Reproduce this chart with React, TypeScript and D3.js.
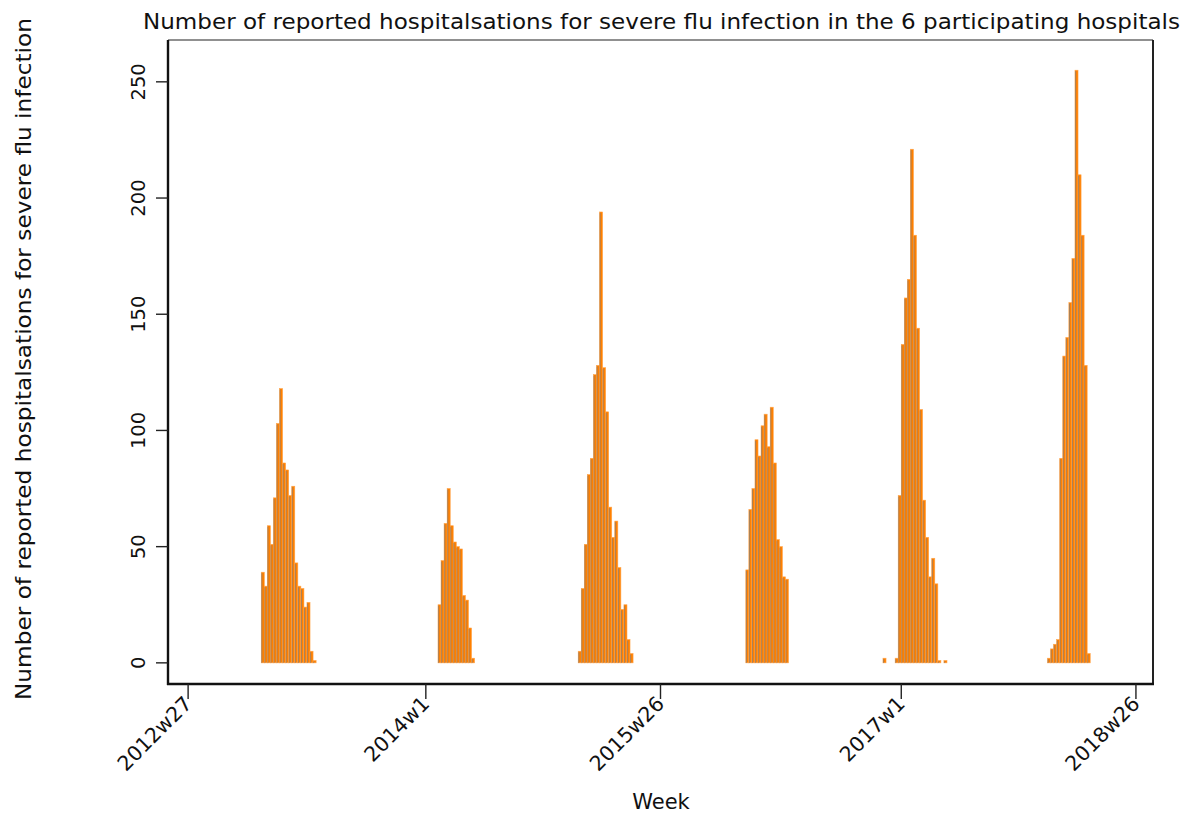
import React, { useEffect } from 'react';
import * as d3 from 'd3';

// weekly counts per flu season
const seasonStarts = ['2012w51', '2014w5', '2014w51', '2016w2', '2016w47', '2017w49'];
const season2012 = [39, 33, 59, 51, 71, 103, 118, 86, 83, 72, 76, 43, 33, 32, 24, 26, 5, 1];
const season2013 = [25, 44, 60, 75, 59, 52, 50, 49, 29, 27, 15, 2];
const season2014 = [5, 32, 51, 81, 88, 124, 128, 194, 127, 108, 67, 54, 61, 41, 23, 25, 10, 4];
const season2015 = [40, 66, 75, 96, 89, 102, 107, 93, 110, 86, 53, 50, 37, 36];
const season2016 = [2, 0, 0, 0, 2, 72, 137, 157, 165, 221, 184, 144, 109, 70, 54, 37, 45, 34, 1, 0, 1];
const season2017 = [2, 6, 8, 10, 88, 132, 140, 155, 174, 255, 210, 184, 128, 4];
const seasons = [season2012, season2013, season2014, season2015, season2016, season2017];

const xTickLabels = ['2012w27', '2014w1', '2015w26', '2017w1', '2018w26'];
const yTicks = [0, 50, 100, 150, 200, 250];

// Stata style weekly date: 52 weeks a year, counted from 1960w1
const weekNum = (s: string) => {
  const [y, w] = s.split('w').map(Number);
  return (y - 1960) * 52 + (w - 1);
};

const W = 1191;
const H = 814;
const left = 168;
const right = 1153;
const top = 40;
const bottom = 684;
const font = '"DejaVu Sans", sans-serif';

const App: React.FC = () => {
  useEffect(() => {
    document.body.style.margin = '0';
  }, []);

  const x = d3
    .scaleLinear()
    .domain([weekNum('2012w27') - 6.6, weekNum('2018w26') + 5.6])
    .range([left, right]);
  const y = d3.scaleLinear().domain([-9.1, 268]).range([bottom, top]);

  const bars = seasons.flatMap((vals, si) => {
    const start = weekNum(seasonStarts[si]);
    return vals.map((v, i) => ({ t: start + i, v })).filter((d) => d.v > 0);
  });

  return (
    <svg width={W} height={H} style={{ display: 'block', background: '#fff' }}>
      <text
        x={143}
        y={29}
        fontFamily={font}
        fontSize={21}
        textLength={1037}
        lengthAdjust="spacingAndGlyphs"
        fill="#111"
      >
        Number of reported hospitalsations for severe flu infection in the 6 participating hospitals
      </text>

      {/* bars */}
      {bars.map((d, i) => {
        const x0 = x(d.t);
        const x1 = x(d.t + 1);
        const y0 = y(d.v);
        return (
          <g key={i}>
            <rect
              x={x0}
              y={y0}
              width={x1 - x0}
              height={y(0) - y0}
              fill="#ff8000"
              stroke="#ffa44a"
              strokeWidth={0.6}
            />
            <line x1={x0 + 0.6} x2={x0 + 0.6} y1={y0 + 1} y2={y(0)} stroke="#94806c" strokeWidth={0.8} />
          </g>
        );
      })}

      {/* frame */}
      <line x1={left} x2={right} y1={top} y2={top} stroke="#222" strokeWidth={1.2} />
      <line x1={right} x2={right} y1={top} y2={bottom} stroke="#222" strokeWidth={2} />
      <line x1={left} x2={left} y1={top} y2={bottom + 1} stroke="#111" strokeWidth={2.4} />
      <line x1={left - 1} x2={right + 1} y1={bottom} y2={bottom} stroke="#111" strokeWidth={2.4} />

      {/* y axis */}
      {yTicks.map((t) => (
        <g key={t}>
          <line x1={left - 12} x2={left} y1={y(t)} y2={y(t)} stroke="#222" strokeWidth={1.4} />
          <text
            transform={`translate(${left - 23},${y(t)}) rotate(-90)`}
            textAnchor="middle"
            fontFamily={font}
            fontSize={19.5}
            fill="#111"
          >
            {t}
          </text>
        </g>
      ))}
      <text
        transform="translate(31,700) rotate(-90)"
        fontFamily={font}
        fontSize={22}
        textLength={682}
        lengthAdjust="spacingAndGlyphs"
        fill="#111"
      >
        Number of reported hospitalsations for severe flu infection
      </text>

      {/* x axis */}
      {xTickLabels.map((lab) => {
        const px = x(weekNum(lab));
        return (
          <g key={lab}>
            <line x1={px} x2={px} y1={bottom} y2={bottom + 15} stroke="#222" strokeWidth={1.4} />
            <text
              transform={`translate(${px + 5},${bottom + 21}) rotate(-45)`}
              textAnchor="end"
              fontFamily={font}
              fontSize={20.5}
              fill="#111"
            >
              {lab}
            </text>
          </g>
        );
      })}
      <text x={661} y={809} textAnchor="middle" fontFamily={font} fontSize={21} fill="#111">
        Week
      </text>
    </svg>
  );
};

export default App;
